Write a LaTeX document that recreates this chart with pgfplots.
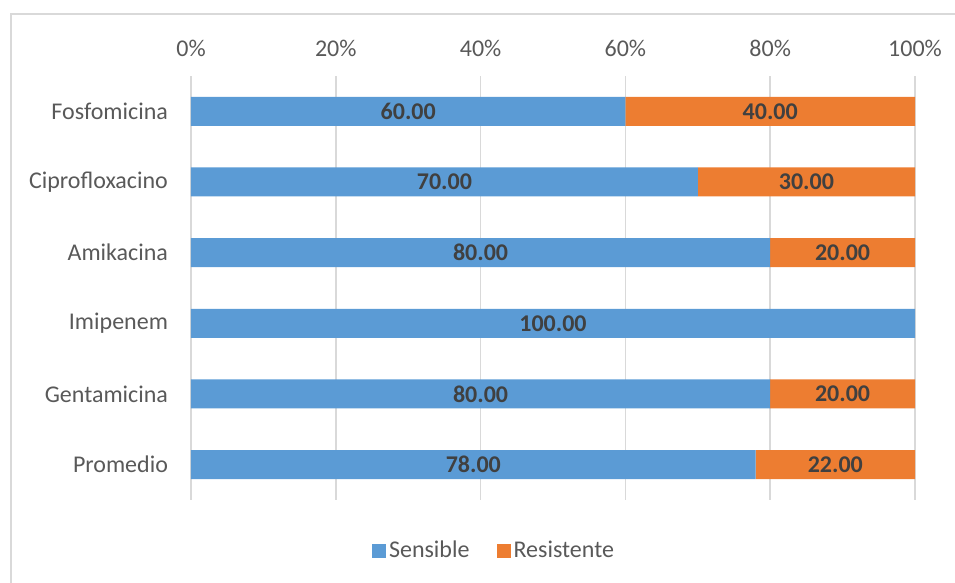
\documentclass[border=0pt]{standalone}
\usepackage{pgfplots}
\pgfplotsset{compat=1.18}
\usepackage{fontspec}
\setmainfont{Carlito}
\definecolor{cblue}{HTML}{5B9BD5}
\definecolor{corange}{HTML}{ED7D31}
\definecolor{ctick}{HTML}{595959}
\definecolor{clab}{HTML}{404040}
\definecolor{cgrid}{HTML}{D9D9D9}
\newcommand\chartfont{\fontsize{12}{14.4}\selectfont}
\begin{document}
\begin{tikzpicture}
\path[use as bounding box] (0,-291.5pt) rectangle (477.5pt,0pt);
\draw[cgrid, line width=0.75pt] (5.5pt,-296pt) -- (5.5pt,-7pt) -- (482pt,-7pt);
\begin{axis}[
  at={(95.5pt,-38pt)}, anchor=north west,
  scale only axis, width=362pt, height=212pt,
  xbar stacked, bar width=14.5pt,
  xmin=0, xmax=100, ymin=-0.5, ymax=5.5,
  xtick={0,20,...,100},
  xticklabel={\pgfmathprintnumber{\tick}\%},
  xticklabel pos=upper,
  ytick={0,...,5},
  yticklabels={Promedio,Gentamicina,Imipenem,Amikacina,Ciprofloxacino,Fosfomicina},
  /pgf/number format/assume math mode=true,
  major tick length=0pt,
  axis line style={draw=none},
  xmajorgrids, grid style={cgrid, line width=0.75pt},
  tick label style={font=\chartfont, text=ctick},
  xticklabel style={yshift=6pt},
  yticklabel style={xshift=-8pt},
  point meta=explicit,
  nodes near coords={\pgfmathfloatifflags{\pgfplotspointmeta}{0}{}{\pgfmathprintnumber[fixed,fixed zerofill,precision=2]{\pgfplotspointmeta}}},
  every node near coord/.append style={anchor=center, font=\chartfont\bfseries, text=clab},
  legend style={at={(0.4192,-0.1203)}, anchor=center, draw=none, fill=none, font=\chartfont, text=ctick, legend columns=2,
    /tikz/every even column/.append style={column sep=12pt}, nodes={inner sep=1.5pt}},
  legend image code/.code={\fill[#1,draw=none] (0pt,-3.5pt) rectangle (7pt,3.5pt);},
]
\addplot[fill=cblue, draw=none] coordinates {(60,5) [60] (70,4) [70] (80,3) [80] (100,2) [100] (80,1) [80] (78,0) [78]};
\addplot[fill=corange, draw=none] coordinates {(40,5) [40] (30,4) [30] (20,3) [20] (0,2) [0] (20,1) [20] (22,0) [22]};
\legend{Sensible,Resistente}
\end{axis}
\end{tikzpicture}
\end{document}
